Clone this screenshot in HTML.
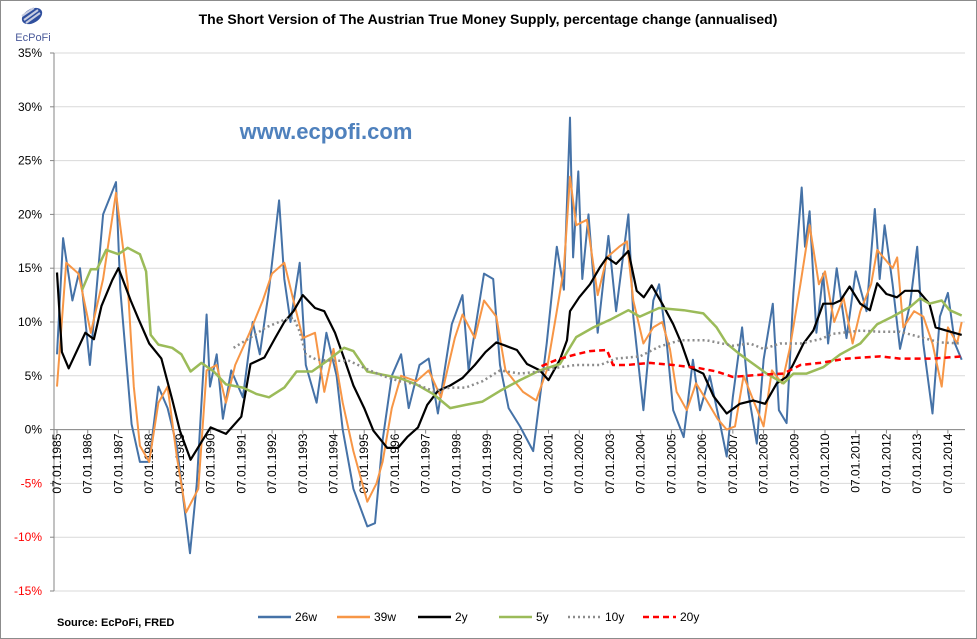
<!DOCTYPE html>
<html><head><meta charset="utf-8">
<style>
html,body{margin:0;padding:0;background:#fff;}
#wrap{position:relative;width:977px;height:639px;overflow:hidden;font-family:"Liberation Sans",sans-serif;}
svg text{font-family:"Liberation Sans",sans-serif;}
</style></head>
<body>
<div id="wrap">
<svg id="chart" width="977" height="639" viewBox="0 0 977 639">
  <rect x="0.5" y="0.5" width="976" height="638" fill="#fff" stroke="#8c8c8c"/>
  <g>
    <ellipse cx="32" cy="16" rx="11" ry="7" fill="#2f4f9e" transform="rotate(-30 32 16)"/>
    <path d="M24 20 L38 10 M26 23 L40 13 M22 16 L34 8" stroke="#c8cde0" stroke-width="2"/>
    <text x="33" y="41" font-size="11" fill="#4a5a9a" text-anchor="middle">EcPoFi</text>
  </g>
  <text x="488" y="24" font-size="14" font-weight="bold" text-anchor="middle" fill="#000">The Short Version of The Austrian True Money Supply, percentage change (annualised)</text>
  <text x="326" y="139" font-size="22" font-weight="bold" text-anchor="middle" fill="#4F81BD">www.ecpofi.com</text>
  <g id="grid"></g>
  <g id="yaxis"></g>
  <g id="xaxis"></g>
  <g id="series"></g>
  <text x="57" y="626" font-size="11" font-weight="bold" fill="#000">Source: EcPoFi,  FRED</text>
  <g id="legend"></g>
</svg>
</div>
<script>
const yTicks = [35,30,25,20,15,10,5,0,-5,-10,-15];
const xYears = [1985,1986,1987,1988,1989,1990,1991,1992,1993,1994,1995,1996,1997,1998,1999,2000,2001,2002,2003,2004,2005,2006,2007,2008,2009,2010,2011,2012,2013,2014];

const t26 = [0,0.2,0.5,0.75,1.07,1.5,1.92,2.06,2.43,2.7,3.0,3.3,3.6,3.9,4.33,4.55,4.87,4.98,5.2,5.4,5.67,6.05,6.37,6.6,6.9,7.23,7.4,7.6,7.9,8.1,8.45,8.77,9.1,9.3,9.65,10.1,10.35,10.6,10.9,11.2,11.45,11.8,12.1,12.4,12.85,13.2,13.4,13.9,14.2,14.42,14.7,15.07,15.5,15.94,16.27,16.5,16.7,16.8,16.97,17.1,17.3,17.6,17.95,18.2,18.6,18.76,19.09,19.41,19.6,19.85,20.06,20.4,20.7,20.93,21.25,21.58,21.8,22.0,22.3,22.5,22.78,23.0,23.3,23.5,23.75,23.97,24.24,24.35,24.5,24.72,24.94,25.1,25.38,25.7,26.0,26.35,26.62,26.78,26.94,27.2,27.44,27.77,28.0,28.2,28.5,28.74,29.0,29.23,29.45];
const v26 = [7,17.8,12,15,6,20,23,13,0.5,-3,-3,4,2,-1.5,-11.5,-5,10.7,4,7,1,5.5,3,10,7,13,21.3,14,10,15.5,6,2.5,9,5,0,-5.5,-9,-8.7,-1,5,7,2,6,6.6,1.5,9.8,12.5,5.5,14.5,14,6,2,0.3,-2,8,17,13,29,16,24,14,20,9,18,11,20,10.5,1.8,12,13.5,8,1.8,-0.7,6.5,1.8,5,0.6,-2.5,3,9.5,3.5,-1.3,6.5,11.7,1.8,0.6,12.7,22.5,17,20.3,9,14.5,8,15,8.5,14.7,11,20.5,14,19,13.5,7.5,11.7,17,8,1.5,10.5,12.7,8,6.5];

const t39 = [0,0.3,0.7,1.1,1.5,1.92,2.3,2.5,2.7,3.0,3.3,3.6,3.9,4.2,4.6,4.87,5.2,5.5,5.8,6.27,6.7,7.0,7.4,7.7,8.0,8.4,8.7,9.0,9.3,9.65,10.1,10.4,10.6,10.9,11.2,11.7,12.1,12.5,12.95,13.2,13.6,13.9,14.3,14.6,14.75,15.17,15.6,15.94,16.27,16.5,16.7,16.9,17.25,17.6,17.9,18.3,18.55,18.76,19.09,19.41,19.7,19.95,20.17,20.5,20.8,21.15,21.5,21.8,22.07,22.35,22.7,23.0,23.27,23.6,23.85,24.2,24.5,24.8,25.0,25.3,25.6,25.9,26.15,26.5,26.7,26.9,27.2,27.35,27.55,27.9,28.2,28.5,28.8,29.0,29.3,29.45];
const v39 = [4,15.5,14.5,9,14,22,13.5,4,-1.5,-3,2.5,4,-2.5,-7.7,-5.5,5.5,6,2.5,6,9,12,14.5,15.5,12,8.5,9,3.5,7.5,2.5,-2,-6.7,-5,-3,2,5,4.5,5.5,3,8.5,10.7,8.5,12,10.5,5.5,5,3.5,2.7,5.5,11,15,23.5,19,19.5,12.5,16,17,17.5,12,8,9.5,10,7.5,3.5,1.8,4.3,2.7,1,0,0.3,5,2.5,0.3,5.5,4.3,7.5,13.5,19,13.5,14.7,10,12.3,8,11,13.5,16.7,16,15,16,9.5,11,10.5,8,4,9.5,8,10];

const t2y = [0,0.16,0.38,0.92,1.2,1.45,1.8,2.0,2.2,2.4,2.65,3.0,3.4,3.75,4.0,4.35,4.8,5.0,5.5,6.0,6.3,6.75,7.1,7.4,7.7,8.0,8.4,8.7,9.05,9.35,9.65,10.0,10.3,10.75,11.1,11.4,11.75,12.05,12.4,12.8,13.2,13.6,13.95,14.3,14.6,14.97,15.3,15.72,16.0,16.37,16.6,16.7,17.0,17.35,17.68,17.9,18.2,18.6,18.87,19.1,19.36,19.7,20.06,20.33,20.6,21.04,21.37,21.8,22.23,22.67,23.05,23.43,23.75,23.97,24.3,24.62,24.94,25.27,25.5,25.8,26.15,26.46,26.7,27.0,27.34,27.6,28.04,28.4,28.6,28.95,29.45];
const v2y = [14.6,7.2,5.7,9,8.4,11.5,13.9,15,13.5,12,10.3,8,6.6,2.8,-0.1,-2.8,-0.7,0.2,-0.4,1.2,6.1,6.7,8.5,10,11,12.5,11.3,11,9,6.6,4.1,2,-0.1,-1.7,-1.7,-0.7,0.2,2.3,3.6,4.1,4.8,6,7.2,8.1,7.8,7.4,6.1,5.5,4.6,6.5,8.3,11,12.3,13.5,15.1,16,15.4,16.6,12.9,12.3,13.4,11.7,9.8,8,5.8,5.2,3.1,1.5,2.4,2.7,2.4,4.3,4.9,6.1,8,9.2,11.7,11.7,12,13.3,11.7,11.1,13.6,12.6,12.3,12.9,12.9,11.7,9.5,9.2,8.8];

const t5y = [0.82,1.1,1.3,1.6,2.0,2.3,2.7,2.9,3.05,3.3,3.75,4.05,4.35,4.7,5.1,5.5,6.05,6.5,6.9,7.4,7.8,8.3,8.8,9.35,9.65,10.1,10.6,11.15,11.7,12.25,12.8,13.3,13.85,14.42,15.07,15.72,16.37,16.9,17.46,18.0,18.6,18.97,19.6,20.4,21.04,21.47,21.8,22.23,22.67,23.1,23.65,23.97,24.4,24.94,25.5,26.15,26.7,27.2,27.77,28.1,28.4,28.8,29.06,29.45];
const v5y = [13,14.9,14.9,16.7,16.3,16.9,16.3,14.7,8.8,7.9,7.6,7,5.4,6.2,5.4,4.2,3.9,3.3,3,3.9,5.4,5.4,6.4,7.6,7.3,5.4,5.1,4.8,4.2,3.3,2,2.3,2.6,3.6,4.6,5.5,6.1,8.6,9.5,10.2,11.1,10.5,11.3,11.1,10.8,9.5,8,7,6.1,5.2,4.3,5.2,5.2,5.8,7,8,9.8,10.5,11.4,12.2,11.7,12,11.1,10.6];

const t10y = [5.75,6.27,6.8,7.4,7.7,7.9,8.1,8.45,9.0,9.5,10.1,10.6,11.15,11.7,12.25,12.8,13.3,13.85,14.42,15.07,15.72,16.37,16.9,17.68,18.2,18.97,19.6,20.28,21.15,22.0,22.56,23.0,23.54,24.2,24.84,25.27,26.15,26.78,27.44,28.1,28.74,29.45];
const v10y = [7.6,8.5,9.5,10.2,10.4,9.1,7,6.5,6.4,6.4,5.6,5,4.5,4.2,3.6,3.9,3.9,4.5,5.5,5.2,5.4,5.8,6,6,6.6,6.8,7.7,8.3,8.3,7.8,8,7.5,8,8,8.4,8.9,9.2,9.1,9.1,8.6,8.1,8];

const t20y = [15.77,16.27,16.9,17.35,17.9,18.1,18.55,19.3,20.06,20.93,21.47,22.0,22.9,23.65,24.2,24.84,25.7,26.8,27.44,28.5,29.45];
const v20y = [5.9,6.5,7,7.3,7.4,6,6,6.2,6,5.7,5.4,4.9,5.1,5.2,6,6.2,6.6,6.8,6.6,6.6,6.8];

const NS = 'http://www.w3.org/2000/svg';
const X0 = 54, X1 = 965, Y35 = 53, Y_15 = 591;
function yPos(v){ return Y35 + (35 - v) * (Y_15 - Y35) / 50; }
function xPos(t){ return 57 + t * 30.72; }
function mk(tag, attrs, parent){ const e = document.createElementNS(NS, tag); for (const k in attrs) e.setAttribute(k, attrs[k]); parent.appendChild(e); return e; }

const grid = document.getElementById('grid');
const yaxis = document.getElementById('yaxis');
yTicks.forEach(v => {
  const y = yPos(v);
  const gl = mk('line', {x1: X0, x2: X1, y1: y, y2: y, stroke: '#d9d9d9', 'stroke-width': 1}, grid);
  
  
  mk('line', {x1: X0 - 4, x2: X0, y1: y, y2: y, stroke: '#868686'}, yaxis);
  const lb = mk('text', {x: 42, y: y + 4, 'font-size': 12, 'text-anchor': 'end', fill: v < 0 ? '#ff0000' : '#000'}, yaxis);
  lb.textContent = v + '%';
  
  
});
mk('line', {x1: X0, x2: X0, y1: Y35, y2: Y_15, stroke: '#868686'}, yaxis);

const xaxis = document.getElementById('xaxis');
const y0 = yPos(0);
mk('line', {x1: X0, x2: X1, y1: y0, y2: y0, stroke: '#868686'}, xaxis);
xYears.forEach((yr, i) => {
  const x = xPos(i);
  mk('line', {x1: x, x2: x, y1: y0, y2: y0 + 4, stroke: '#868686'}, xaxis);
  const lb = mk('text', {x: 0, y: 0, 'font-size': 12, 'text-anchor': 'end', fill: '#000', transform: 'translate(' + (x + 4) + ',' + (y0 + 4) + ') rotate(-90)'}, xaxis);
  lb.textContent = '07.01.' + yr;
  
  
});

const seriesDefs = [
  {name: '26w', t: t26, v: v26, color: '#4572a7', w: 2, dash: ''},
  {name: '39w', t: t39, v: v39, color: '#f79646', w: 2, dash: ''},
  {name: '2y', t: t2y, v: v2y, color: '#000000', w: 2.2, dash: ''},
  {name: '5y', t: t5y, v: v5y, color: '#9bbb59', w: 2.5, dash: ''},
  {name: '10y', t: t10y, v: v10y, color: '#8c8c8c', w: 2.5, dash: '2,3'},
  {name: '20y', t: t20y, v: v20y, color: '#ff0000', w: 2.5, dash: '6,4'}
];
const sg = document.getElementById('series');
seriesDefs.forEach(s => {
  const d = s.t.map((t, i) => (i ? 'L' : 'M') + xPos(t).toFixed(1) + ' ' + yPos(s.v[i]).toFixed(1)).join(' ');
  const p = mk('path', {d: d, fill: 'none', stroke: s.color, 'stroke-width': s.w, 'stroke-linejoin': 'round', 'stroke-dasharray': s.dash}, sg);
  
  
});

const lg = document.getElementById('legend');
const legX = [258, 337, 418, 499, 568, 643];
seriesDefs.forEach((s, i) => {
  const g = mk('g', {}, lg);
  
  
  mk('line', {x1: legX[i], x2: legX[i] + 33, y1: 617, y2: 617, stroke: s.color, 'stroke-width': 2.5, 'stroke-dasharray': s.dash}, g);
  const tx = mk('text', {x: legX[i] + 37, y: 621, 'font-size': 12, fill: '#000'}, g);
  tx.textContent = s.name;
});
</script>
</body></html>
